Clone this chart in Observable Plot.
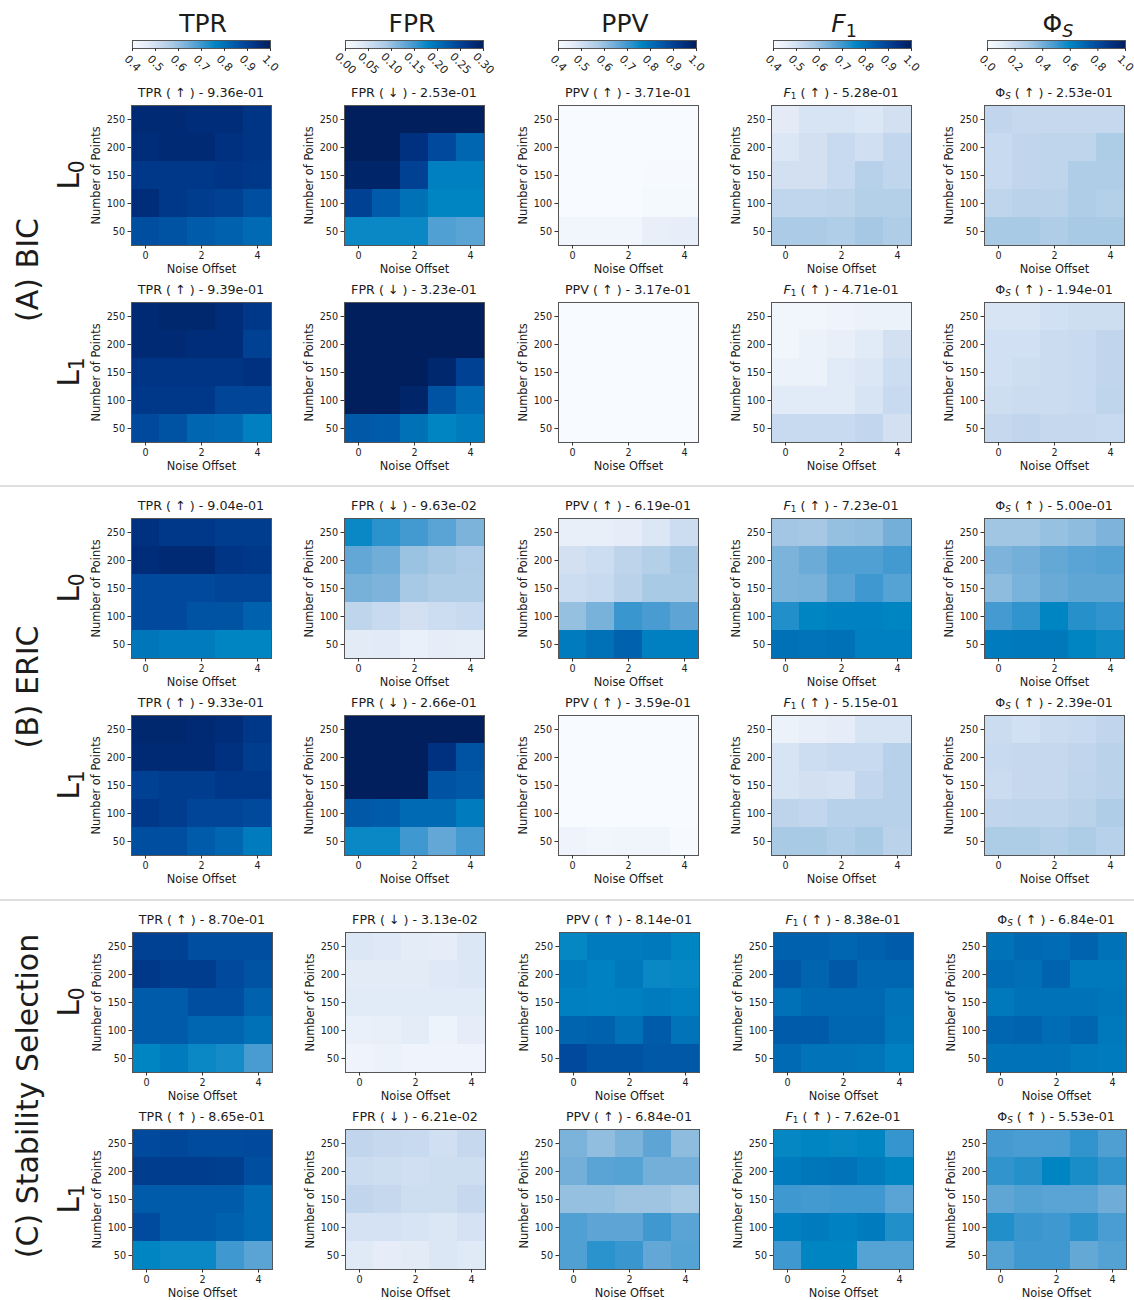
<!DOCTYPE html>
<html><head><meta charset="utf-8">
<script src="https://cdn.jsdelivr.net/npm/d3@7"></script>
<script src="https://cdn.jsdelivr.net/npm/@observablehq/plot@0.6"></script>
<style>
html,body{margin:0;padding:0;background:#fff;}
#page{position:relative;width:1134px;height:1300px;overflow:hidden;font-family:"DejaVu Sans",sans-serif;color:#1c1c1c;}
#page svg{position:absolute;overflow:visible;background:transparent;}
.t{position:absolute;white-space:nowrap;text-align:center;}
.t sub{font-size:70%;line-height:0;vertical-align:-0.28em;}
.rot{position:absolute;white-space:nowrap;transform:translate(-50%,-50%) rotate(-90deg);}
.rot sub{font-size:68%;line-height:0;vertical-align:-0.28em;}
.sep{position:absolute;left:0;width:1134px;height:2px;background:#dfdfdf;}
</style></head><body><div id="page"></div>
<script>
// Axis categories
const noiseOffsets = [0, 1, 2, 3, 4];
const pointCounts = [250, 200, 150, 100, 50];
const xTicks = [0, 2, 4];

// Colour ramp
const rampColors = ["#f7fbff","#e6edf8","#c8daef","#a6c8e4","#74afd9","#3f98d0","#0085c3","#0066b1","#00499c","#003080","#001f5c"];

// Metrics, colour bar domains
const metricNames = ["TPR","FPR","PPV","F1","PhiS"];
const metricHeaders = ["TPR","FPR","PPV","<i>F</i><sub>1</sub>","Φ<sub><i>S</i></sub>"];
const metricTitles = ["TPR ( ↑ )","FPR ( ↓ )","PPV ( ↑ )","<i>F</i><sub>1</sub> ( ↑ )","Φ<sub><i>S</i></sub> ( ↑ )"];
const metricDomains = [[0.4,1],[0,0.3],[0.4,1],[0.4,1],[0,1]];
const barTicks = [[0.4,0.5,0.6,0.7,0.8,0.9,1.0],[0,0.05,0.1,0.15,0.2,0.25,0.3],[0.4,0.5,0.6,0.7,0.8,0.9,1.0],[0.4,0.5,0.6,0.7,0.8,0.9,1.0],[0,0.2,0.4,0.6,0.8,1.0]];
const barFormats = [".1f",".2f",".1f",".1f",".1f"];

// Titles' scores per row
const bicL0Scores = ["9.36e-01","2.53e-01","3.71e-01","5.28e-01","2.53e-01"];
const bicL1Scores = ["9.39e-01","3.23e-01","3.17e-01","4.71e-01","1.94e-01"];
const ericL0Scores = ["9.04e-01","9.63e-02","6.19e-01","7.23e-01","5.00e-01"];
const ericL1Scores = ["9.33e-01","2.66e-01","3.59e-01","5.15e-01","2.39e-01"];
const stabL0Scores = ["8.70e-01","3.13e-02","8.14e-01","8.38e-01","6.84e-01"];
const stabL1Scores = ["8.65e-01","6.21e-02","6.84e-01","7.62e-01","5.53e-01"];

// Heatmap values: rows run from 250 points down to 50 points
const bicL0TPR = [[.96,.96,.95,.95,.93],[.95,.96,.96,.94,.93],[.92,.92,.92,.93,.92],[.95,.92,.91,.90,.87],[.87,.86,.84,.83,.81]];
const bicL0FPR = [[.31,.31,.31,.31,.31],[.30,.30,.27,.24,.21],[.29,.29,.25,.185,.185],[.25,.22,.20,.18,.18],[.175,.175,.175,.14,.135]];
const bicL0PPV = [[.39,.39,.39,.39,.39],[.39,.39,.39,.395,.395],[.395,.395,.395,.405,.405],[.40,.40,.40,.41,.41],[.42,.42,.42,.45,.455]];
const bicL0F1 = [[.465,.49,.49,.48,.50],[.48,.50,.52,.505,.53],[.50,.50,.52,.55,.535],[.535,.535,.54,.555,.555],[.57,.57,.56,.58,.565]];
const bicL0Phi = [[.22,.21,.21,.21,.21],[.20,.22,.23,.23,.28],[.20,.22,.23,.27,.27],[.23,.24,.24,.27,.26],[.29,.29,.27,.29,.29]];

const bicL1TPR = [[.96,.97,.97,.95,.92],[.96,.96,.95,.95,.90],[.93,.93,.93,.93,.94],[.92,.92,.92,.89,.89],[.88,.86,.82,.81,.77]];
const bicL1FPR = [[.31,.31,.31,.31,.31],[.31,.31,.31,.31,.30],[.31,.31,.31,.285,.25],[.31,.31,.29,.23,.205],[.225,.22,.20,.18,.19]];
const bicL1PPV = [[.39,.39,.39,.39,.39],[.39,.39,.39,.39,.39],[.39,.39,.39,.39,.39],[.39,.39,.39,.39,.39],[.39,.39,.39,.39,.39]];
const bicL1F1 = [[.42,.42,.43,.44,.44],[.42,.44,.45,.47,.50],[.44,.44,.47,.48,.51],[.47,.47,.47,.49,.52],[.52,.52,.52,.53,.50]];
const bicL1Phi = [[.15,.15,.17,.18,.18],[.17,.17,.19,.20,.22],[.17,.18,.19,.20,.22],[.18,.19,.19,.20,.23],[.21,.22,.21,.21,.20]];

const ericL0TPR = [[.94,.92,.92,.91,.91],[.95,.96,.96,.93,.92],[.88,.88,.88,.89,.89],[.88,.88,.86,.86,.83],[.79,.78,.78,.76,.76]];
const ericL0FPR = [[.175,.16,.148,.135,.115],[.13,.122,.097,.09,.083],[.118,.114,.088,.082,.082],[.068,.06,.05,.055,.06],[.033,.034,.024,.03,.028]];
const ericL0PPV = [[.45,.45,.46,.48,.51],[.50,.51,.54,.555,.58],[.51,.52,.545,.575,.575],[.60,.635,.705,.69,.665],[.78,.80,.83,.77,.77]];
const ericL0F1 = [[.585,.58,.60,.605,.64],[.63,.65,.68,.68,.695],[.63,.635,.67,.70,.675],[.73,.76,.765,.765,.76],[.80,.795,.80,.77,.77]];
const ericL0Phi = [[.31,.31,.33,.35,.38],[.38,.40,.43,.45,.46],[.35,.39,.42,.44,.44],[.49,.52,.60,.54,.52],[.63,.64,.64,.60,.58]];

const ericL1TPR = [[.97,.97,.96,.95,.92],[.96,.96,.96,.94,.91],[.90,.91,.91,.92,.92],[.92,.91,.89,.89,.88],[.87,.87,.84,.82,.78]];
const ericL1FPR = [[.31,.31,.31,.31,.31],[.31,.31,.30,.27,.23],[.31,.30,.30,.23,.225],[.225,.22,.205,.205,.19],[.175,.175,.15,.13,.147]];
const ericL1PPV = [[.39,.39,.39,.39,.39],[.39,.39,.39,.39,.39],[.39,.39,.39,.39,.39],[.39,.39,.39,.39,.395],[.43,.42,.425,.425,.405]];
const ericL1F1 = [[.44,.45,.46,.49,.49],[.49,.51,.52,.52,.55],[.49,.50,.495,.53,.55],[.54,.53,.55,.55,.55],[.575,.575,.56,.575,.545]];
const ericL1Phi = [[.19,.17,.19,.20,.22],[.20,.21,.21,.22,.24],[.19,.21,.21,.23,.24],[.22,.23,.23,.24,.27],[.28,.28,.26,.28,.25]];

const stabL0TPR = [[.90,.90,.87,.87,.87],[.92,.91,.91,.88,.86],[.84,.84,.87,.87,.83],[.84,.84,.82,.82,.80],[.76,.78,.75,.74,.69]];
const stabL0FPR = [[.04,.038,.032,.03,.04],[.033,.033,.033,.038,.04],[.035,.035,.035,.035,.035],[.024,.025,.032,.018,.03],[.014,.02,.015,.015,.015]];
const stabL0PPV = [[.755,.78,.78,.785,.76],[.78,.765,.785,.75,.755],[.77,.765,.77,.78,.77],[.825,.83,.80,.84,.795],[.88,.86,.86,.85,.85]];
const stabL0F1 = [[.83,.83,.82,.83,.84],[.85,.825,.85,.82,.82],[.80,.815,.815,.815,.795],[.84,.84,.82,.82,.79],[.81,.795,.795,.79,.77]];
const stabL0Phi = [[.66,.69,.68,.71,.66],[.68,.67,.71,.64,.64],[.64,.66,.66,.66,.65],[.70,.71,.68,.70,.64],[.66,.66,.66,.64,.63]];

const stabL1TPR = [[.88,.885,.875,.875,.88],[.91,.91,.91,.905,.87],[.84,.84,.84,.84,.81],[.875,.84,.84,.83,.81],[.76,.75,.75,.70,.67]];
const stabL1FPR = [[.066,.063,.06,.052,.063],[.057,.054,.052,.054,.054],[.066,.063,.054,.054,.063],[.048,.048,.045,.04,.048],[.036,.03,.033,.04,.036]];
const stabL1PPV = [[.63,.605,.63,.665,.61],[.64,.67,.675,.64,.64],[.60,.60,.59,.59,.575],[.68,.665,.665,.70,.67],[.68,.72,.705,.66,.675]];
const stabL1F1 = [[.755,.76,.755,.76,.71],[.78,.79,.795,.78,.76],[.70,.695,.70,.70,.67],[.77,.78,.765,.78,.73],[.70,.76,.76,.675,.675]];
const stabL1Phi = [[.49,.48,.48,.52,.47],[.52,.54,.60,.56,.52],[.44,.46,.45,.45,.41],[.55,.51,.50,.53,.48],[.46,.50,.50,.43,.46]];

const panelRows = [
  {scores: bicL0Scores, grids: [bicL0TPR,bicL0FPR,bicL0PPV,bicL0F1,bicL0Phi], label: "0"},
  {scores: bicL1Scores, grids: [bicL1TPR,bicL1FPR,bicL1PPV,bicL1F1,bicL1Phi], label: "1"},
  {scores: ericL0Scores, grids: [ericL0TPR,ericL0FPR,ericL0PPV,ericL0F1,ericL0Phi], label: "0"},
  {scores: ericL1Scores, grids: [ericL1TPR,ericL1FPR,ericL1PPV,ericL1F1,ericL1Phi], label: "1"},
  {scores: stabL0Scores, grids: [stabL0TPR,stabL0FPR,stabL0PPV,stabL0F1,stabL0Phi], label: "0"},
  {scores: stabL1Scores, grids: [stabL1TPR,stabL1FPR,stabL1PPV,stabL1F1,stabL1Phi], label: "1"}
];
const sections = [{text:"(A) BIC", center:270},{text:"(B) ERIC", center:687},{text:"(C) Stability Selection", center:1096}];

// Page layout
const rowTops = [105,302,518,715,932,1129];
const colLefts = [[131,344,558,771,984],[132,345,559,773,986]];
const barLefts = [132,345,558,773,987];
const headerCenters = [203,412,625,844,1058];
const sepTops = [485,899];
const size = 140, ml = 48, mr = 6, mt = 2, mb = 36;
const axisFont = "DejaVu Sans";

const page = document.getElementById("page");
const ramp = d3.piecewise(d3.interpolateRgb, rampColors);
function addText(cls, left, top, width, html, fs){
  const d = document.createElement("div");
  d.className = cls; d.innerHTML = html;
  d.style.cssText = `left:${left}px;top:${top}px;width:${width}px;font-size:${fs}px;line-height:${fs+2}px`;
  page.appendChild(d);
}
function addRot(x, y, html, fs){
  const d = document.createElement("div");
  d.className = "rot"; d.innerHTML = html;
  d.style.left = x+"px"; d.style.top = y+"px"; d.style.fontSize = fs+"px";
  page.appendChild(d);
}
function place(svg, left, top){
  svg.style.left = left+"px"; svg.style.top = top+"px";
  page.appendChild(svg);
}
const colorFor = m => ({type:"linear", domain: metricDomains[m], interpolate: () => ramp, clamp:true});

// Headers and colour bars
metricNames.forEach((name, m) => {
  addText("t", headerCenters[m]-60, 10, 120, metricHeaders[m], 25);
  const [a,b] = metricDomains[m];
  const steps = d3.range(0, 200).map(i => a + (b-a)*i/200);
  const bar = Plot.plot({
    width: 138+24, height: 40, marginLeft: 12, marginRight: 12, marginTop: 1, marginBottom: 31,
    x: {domain:[a,b]}, color: colorFor(m),
    style:{background:"transparent", color:"#1c1c1c"},
    marks: [
      Plot.rect(steps, {x1:d=>d, x2:d=>Math.min(b, d+(b-a)/120), fill:d=>d, shapeRendering:"crispEdges"}),
      Plot.frame({stroke:"#555", strokeWidth:1}),
      Plot.axisX({ticks:barTicks[m], tickFormat:d3.format(barFormats[m]), tickSize:3, tickRotate:45, textAnchor:"middle", tickPadding:12, fontSize:11, fontFamily:axisFont, label:null, stroke:"#333"})
    ]
  });
  place(bar, barLefts[m]-12, 39);
});

// Heatmap panels
panelRows.forEach((row, r) => {
  const lefts = colLefts[r>=4 ? 1 : 0];
  addRot(68, rowTops[r]+size/2, `L<sub>${row.label}</sub>`, 30);
  row.grids.forEach((grid, m) => {
    const data = grid.flatMap((vals, i) => vals.map((v, j) => ({noise: noiseOffsets[j], points: pointCounts[i], v})));
    const svg = Plot.plot({
      width: size+ml+mr, height: size+mt+mb, marginLeft: ml, marginRight: mr, marginTop: mt, marginBottom: mb,
      x: {type:"band", domain: noiseOffsets, padding:0, round:false},
      y: {type:"band", domain: pointCounts, padding:0, round:false},
      color: colorFor(m),
      style:{background:"transparent", color:"#1c1c1c"},
      marks: [
        Plot.cell(data, {x:"noise", y:"points", fill:"v", inset:0, shapeRendering:"crispEdges"}),
        Plot.frame({stroke:"#555", strokeWidth:1}),
        Plot.axisX({ticks:xTicks, tickSize:3.5, tickPadding:3, fontSize:9.6, fontFamily:axisFont, label:null, stroke:"#333"}),
        Plot.axisX({ticks:[], tickSize:0, fontSize:11.4, fontFamily:axisFont, label:"Noise Offset", labelAnchor:"center", labelArrow:"none", labelOffset:27}),
        Plot.axisY({tickSize:3.5, tickPadding:3, fontSize:9.6, fontFamily:axisFont, label:null, stroke:"#333"}),
        Plot.axisY({ticks:[], tickSize:0, fontSize:11.4, fontFamily:axisFont, label:"Number of Points", labelAnchor:"center", labelArrow:"none", labelOffset:40})
      ]
    });
    place(svg, lefts[m]-ml, rowTops[r]-mt);
    addText("t", lefts[m]-20, rowTops[r]-19, size+40, `${metricTitles[m]} - ${row.scores[m]}`, 12.7);
  });
});

// Section labels and separators
sections.forEach(s => addRot(27, s.center, s.text, 30));
sepTops.forEach(y => { const d = document.createElement("div"); d.className="sep"; d.style.top=y+"px"; page.appendChild(d); });
</script></body></html>
